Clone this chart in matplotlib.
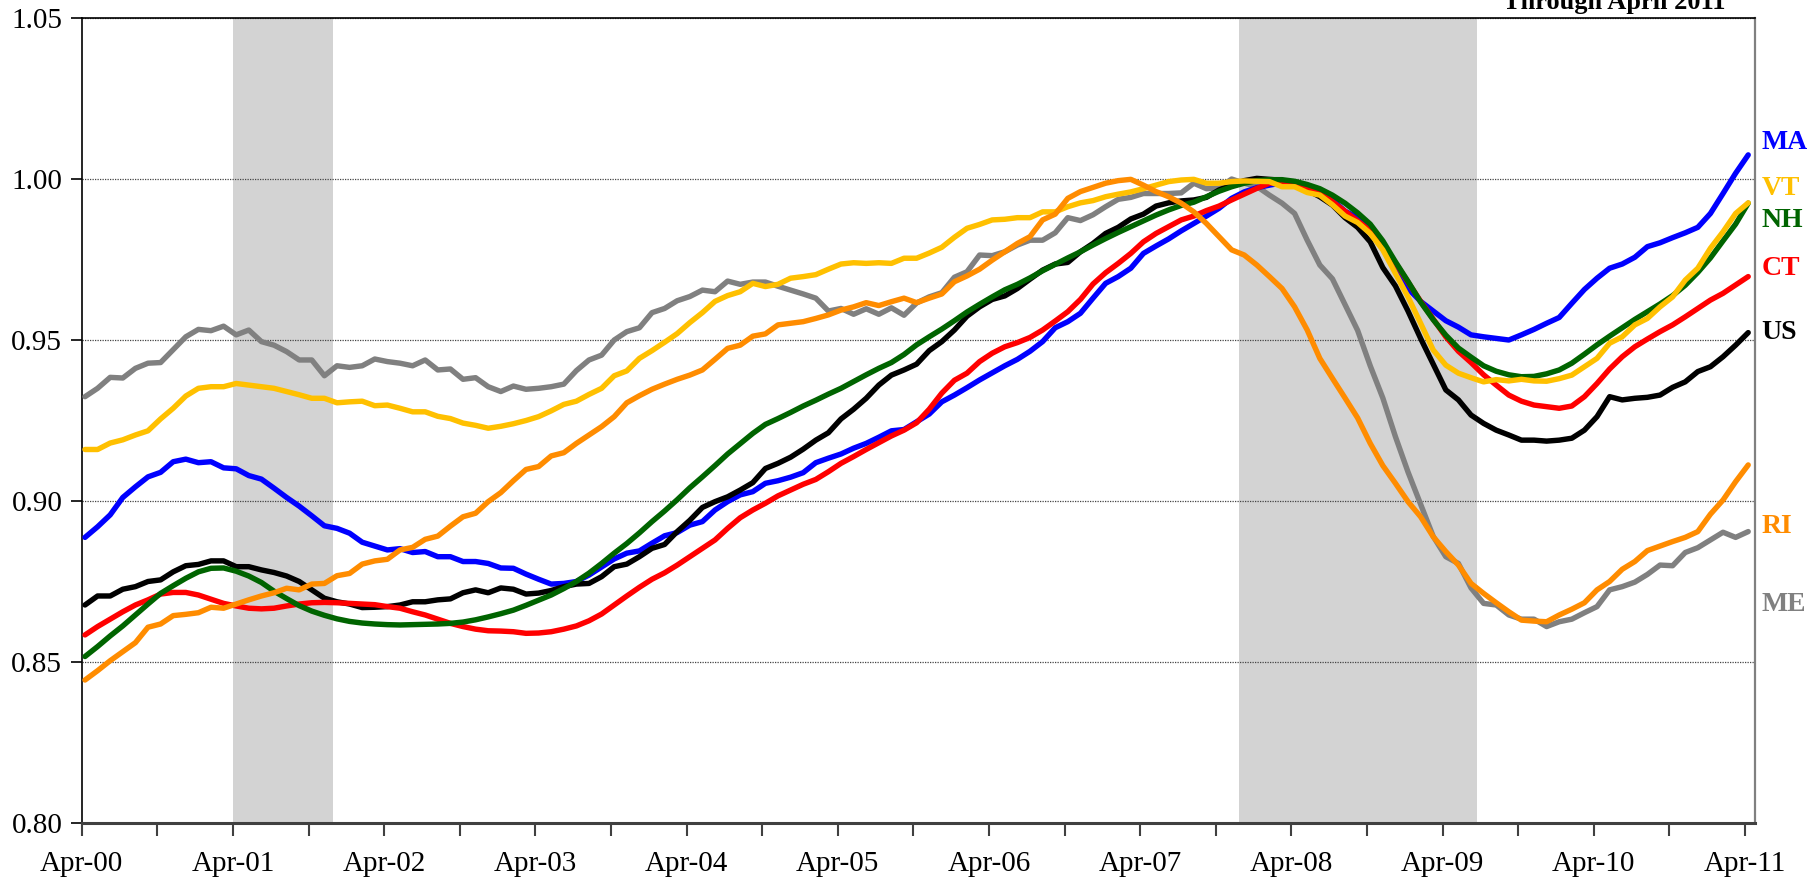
import numpy as np
import matplotlib
matplotlib.use("Agg")
import matplotlib.pyplot as plt

plt.rcParams['font.family'] = ['Liberation Serif', 'DejaVu Serif']

# monthly values, Apr-2000 .. Apr-2011 (133 months)
ME = [0.9324, 0.9350, 0.9384, 0.9382, 0.9412, 0.9428, 0.9430, 0.9470, 0.9510, 0.9533,
      0.9529, 0.9543, 0.9516, 0.9531, 0.9495, 0.9484, 0.9464, 0.9438, 0.9438, 0.9389,
      0.9420, 0.9415, 0.9420, 0.9441, 0.9433, 0.9428, 0.9420, 0.9438, 0.9407, 0.9410,
      0.9378, 0.9383, 0.9355, 0.9340, 0.9357, 0.9347, 0.9350, 0.9355, 0.9363, 0.9405,
      0.9438, 0.9453, 0.9500, 0.9526, 0.9538, 0.9585, 0.9598, 0.9622, 0.9635, 0.9655,
      0.9650, 0.9683, 0.9673, 0.9680, 0.9680, 0.9667, 0.9655, 0.9643, 0.9630, 0.9590,
      0.9598, 0.9580, 0.9597, 0.9580, 0.9600, 0.9577, 0.9615, 0.9634, 0.9647, 0.9695,
      0.9712, 0.9764, 0.9762, 0.9774, 0.9795, 0.9810, 0.9810, 0.9833, 0.9880, 0.9871,
      0.9889, 0.9914, 0.9937, 0.9943, 0.9955, 0.9955, 0.9955, 0.9957, 0.9987, 0.9970,
      0.9972, 1.0000, 0.9987, 0.9977, 0.9950, 0.9925, 0.9893, 0.9810, 0.9733, 0.9690,
      0.9610, 0.9530, 0.9420, 0.9320, 0.9200, 0.9090, 0.8990, 0.8890, 0.8827, 0.8806,
      0.8730, 0.8682, 0.8677, 0.8646, 0.8633, 0.8633, 0.8610, 0.8625, 0.8633, 0.8653,
      0.8672, 0.8724, 0.8734, 0.8748, 0.8772, 0.8801, 0.8799, 0.8840, 0.8855, 0.8879,
      0.8903, 0.8887, 0.8905]

VT = [0.9160, 0.9160, 0.9180, 0.9190, 0.9205, 0.9218, 0.9255, 0.9288, 0.9326, 0.9350,
      0.9355, 0.9355, 0.9365, 0.9360, 0.9355, 0.9350, 0.9340, 0.9330, 0.9319, 0.9319,
      0.9305, 0.9308, 0.9310, 0.9296, 0.9298, 0.9288, 0.9277, 0.9277, 0.9263, 0.9256,
      0.9242, 0.9235, 0.9226, 0.9232, 0.9240, 0.9250, 0.9262, 0.9280, 0.9300, 0.9310,
      0.9331, 0.9350, 0.9389, 0.9404, 0.9443, 0.9467, 0.9493, 0.9520, 0.9554, 0.9585,
      0.9620, 0.9638, 0.9650, 0.9676, 0.9666, 0.9673, 0.9692, 0.9697, 0.9703, 0.9720,
      0.9736, 0.9740, 0.9738, 0.9740, 0.9738, 0.9754, 0.9754, 0.9770, 0.9788, 0.9819,
      0.9847, 0.9859, 0.9873, 0.9875, 0.9880, 0.9880, 0.9898, 0.9898, 0.9914, 0.9926,
      0.9933, 0.9945, 0.9953, 0.9960, 0.9970, 0.9981, 0.9992, 0.9997, 0.9999, 0.9987,
      0.9987, 0.9992, 0.9994, 0.9993, 0.9992, 0.9976, 0.9976, 0.9958, 0.9950, 0.9920,
      0.9885, 0.9865, 0.9831, 0.9780, 0.9707, 0.9634, 0.9552, 0.9469, 0.9422, 0.9397,
      0.9383, 0.9370, 0.9377, 0.9373, 0.9378, 0.9373, 0.9372, 0.9380, 0.9391, 0.9417,
      0.9443, 0.9490, 0.9510, 0.9547, 0.9567, 0.9603, 0.9634, 0.9686, 0.9723, 0.9785,
      0.9836, 0.9893, 0.9926]

MA = [0.8887, 0.8920, 0.8957, 0.9011, 0.9044, 0.9075, 0.9089, 0.9122, 0.9130, 0.9119,
      0.9122, 0.9103, 0.9100, 0.9079, 0.9068, 0.9040, 0.9011, 0.8984, 0.8954, 0.8923,
      0.8915, 0.8900, 0.8872, 0.8860, 0.8848, 0.8852, 0.8840, 0.8843, 0.8827, 0.8827,
      0.8812, 0.8812, 0.8806, 0.8792, 0.8791, 0.8773, 0.8757, 0.8742, 0.8744, 0.8750,
      0.8770, 0.8795, 0.8820, 0.8838, 0.8845, 0.8869, 0.8892, 0.8902, 0.8925, 0.8936,
      0.8972, 0.8998, 0.9019, 0.9029, 0.9055, 0.9063, 0.9074, 0.9088, 0.9119, 0.9133,
      0.9146, 0.9164, 0.9179, 0.9198, 0.9218, 0.9222, 0.9246, 0.9270, 0.9308, 0.9329,
      0.9352, 0.9376, 0.9398, 0.9420, 0.9440, 0.9465, 0.9495, 0.9538, 0.9557, 0.9583,
      0.9630, 0.9676, 0.9697, 0.9723, 0.9769, 0.9792, 0.9814, 0.9839, 0.9862, 0.9885,
      0.9909, 0.9940, 0.9960, 0.9973, 0.9981, 0.9988, 0.9985, 0.9976, 0.9960, 0.9935,
      0.9900, 0.9880, 0.9840, 0.9785, 0.9715, 0.9660, 0.9620, 0.9590, 0.9560, 0.9540,
      0.9516, 0.9510, 0.9505, 0.9500, 0.9516, 0.9533, 0.9552, 0.9570, 0.9614, 0.9657,
      0.9692, 0.9723, 0.9736, 0.9757, 0.9790, 0.9802, 0.9818, 0.9833, 0.9850, 0.9893,
      0.9955, 1.0018, 1.0075]

US = [0.8677, 0.8705, 0.8705, 0.8726, 0.8734, 0.8750, 0.8755, 0.8780, 0.8799, 0.8803,
      0.8814, 0.8814, 0.8796, 0.8796, 0.8786, 0.8778, 0.8767, 0.8750, 0.8724, 0.8698,
      0.8687, 0.8680, 0.8669, 0.8670, 0.8672, 0.8677, 0.8687, 0.8687, 0.8693, 0.8696,
      0.8715, 0.8724, 0.8715, 0.8730, 0.8726, 0.8711, 0.8714, 0.8722, 0.8734, 0.8742,
      0.8744, 0.8765, 0.8796, 0.8804, 0.8827, 0.8853, 0.8865, 0.8905, 0.8940, 0.8980,
      0.8998, 0.9013, 0.9034, 0.9057, 0.9101, 0.9117, 0.9136, 0.9161, 0.9189, 0.9212,
      0.9255, 0.9285, 0.9319, 0.9360, 0.9391, 0.9407, 0.9425, 0.9467, 0.9495, 0.9531,
      0.9574, 0.9603, 0.9626, 0.9637, 0.9660, 0.9689, 0.9717, 0.9736, 0.9741, 0.9774,
      0.9800, 0.9831, 0.9850, 0.9876, 0.9891, 0.9916, 0.9926, 0.9932, 0.9935, 0.9943,
      0.9966, 0.9981, 0.9995, 1.0002, 0.9999, 0.9996, 0.9987, 0.9966, 0.9945, 0.9919,
      0.9880, 0.9850, 0.9805, 0.9725, 0.9668, 0.9590, 0.9505, 0.9425, 0.9345, 0.9314,
      0.9267, 0.9241, 0.9220, 0.9205, 0.9189, 0.9189, 0.9186, 0.9189, 0.9195, 0.9220,
      0.9262, 0.9324, 0.9314, 0.9319, 0.9322, 0.9329, 0.9353, 0.9370, 0.9402, 0.9417,
      0.9448, 0.9484, 0.9523]

NH = [0.8517, 0.8548, 0.8581, 0.8612, 0.8646, 0.8680, 0.8713, 0.8737, 0.8760, 0.8780,
      0.8791, 0.8792, 0.8782, 0.8767, 0.8747, 0.8720, 0.8697, 0.8675, 0.8658, 0.8645,
      0.8634, 0.8626, 0.8621, 0.8618, 0.8616, 0.8615, 0.8616, 0.8617, 0.8618, 0.8620,
      0.8624, 0.8631, 0.8640, 0.8650, 0.8661, 0.8676, 0.8692, 0.8708, 0.8728, 0.8750,
      0.8776, 0.8806, 0.8838, 0.8868, 0.8901, 0.8936, 0.8969, 0.9004, 0.9041, 0.9075,
      0.9110, 0.9146, 0.9178, 0.9210, 0.9238, 0.9256, 0.9275, 0.9295, 0.9313, 0.9332,
      0.9350, 0.9371, 0.9392, 0.9412, 0.9430, 0.9455, 0.9485, 0.9510, 0.9534, 0.9560,
      0.9587, 0.9611, 0.9634, 0.9656, 0.9673, 0.9693, 0.9715, 0.9735, 0.9755, 0.9774,
      0.9795, 0.9815, 0.9834, 0.9852, 0.9870, 0.9888, 0.9904, 0.9918, 0.9928, 0.9945,
      0.9962, 0.9976, 0.9987, 0.9995, 0.9998, 0.9998, 0.9993, 0.9983, 0.9970, 0.9950,
      0.9925, 0.9895, 0.9860, 0.9808, 0.9743, 0.9682, 0.9618, 0.9563, 0.9515, 0.9475,
      0.9447, 0.9420, 0.9403, 0.9392, 0.9386, 0.9387, 0.9395, 0.9407, 0.9428, 0.9456,
      0.9485, 0.9512, 0.9538, 0.9564, 0.9588, 0.9612, 0.9638, 0.9670, 0.9710, 0.9755,
      0.9808, 0.9860, 0.9925]

CT = [0.8584, 0.8610, 0.8633, 0.8656, 0.8677, 0.8693, 0.8711, 0.8716, 0.8716, 0.8708,
      0.8695, 0.8682, 0.8674, 0.8667, 0.8665, 0.8667, 0.8674, 0.8680, 0.8684, 0.8685,
      0.8684, 0.8682, 0.8680, 0.8678, 0.8672, 0.8667, 0.8656, 0.8646, 0.8633, 0.8620,
      0.8610, 0.8602, 0.8597, 0.8596, 0.8594, 0.8589, 0.8590, 0.8594, 0.8602, 0.8612,
      0.8628, 0.8649, 0.8677, 0.8705, 0.8732, 0.8757, 0.8777, 0.8801, 0.8827, 0.8853,
      0.8879, 0.8915, 0.8948, 0.8972, 0.8993, 0.9016, 0.9034, 0.9052, 0.9067, 0.9091,
      0.9117, 0.9138, 0.9160, 0.9181, 0.9202, 0.9220, 0.9243, 0.9285, 0.9335, 0.9375,
      0.9397, 0.9433, 0.9459, 0.9479, 0.9492, 0.9508, 0.9531, 0.9559, 0.9588, 0.9626,
      0.9674, 0.9709, 0.9738, 0.9769, 0.9805, 0.9831, 0.9852, 0.9873, 0.9885, 0.9902,
      0.9916, 0.9935, 0.9953, 0.9971, 0.9987, 0.9990, 0.9985, 0.9975, 0.9960, 0.9930,
      0.9900, 0.9870, 0.9840, 0.9795, 0.9740, 0.9680, 0.9620, 0.9565, 0.9510, 0.9465,
      0.9430, 0.9392, 0.9360, 0.9329, 0.9310, 0.9298, 0.9293, 0.9288, 0.9295, 0.9324,
      0.9365, 0.9410, 0.9448, 0.9479, 0.9503, 0.9526, 0.9547, 0.9572, 0.9598, 0.9624,
      0.9645, 0.9671, 0.9697]

RI = [0.8444, 0.8473, 0.8504, 0.8532, 0.8560, 0.8608, 0.8618, 0.8644, 0.8648, 0.8653,
      0.8670, 0.8667, 0.8680, 0.8693, 0.8705, 0.8715, 0.8729, 0.8724, 0.8742, 0.8744,
      0.8768, 0.8775, 0.8804, 0.8814, 0.8819, 0.8848, 0.8856, 0.8881, 0.8891, 0.8922,
      0.8951, 0.8962, 0.8998, 0.9026, 0.9063, 0.9098, 0.9107, 0.9140, 0.9150, 0.9179,
      0.9205, 0.9231, 0.9262, 0.9305, 0.9327, 0.9347, 0.9363, 0.9378, 0.9391, 0.9407,
      0.9440, 0.9474, 0.9484, 0.9512, 0.9519, 0.9547, 0.9552, 0.9557, 0.9567, 0.9578,
      0.9593, 0.9603, 0.9616, 0.9607, 0.9619, 0.9630, 0.9616, 0.9630, 0.9643, 0.9681,
      0.9699, 0.9720, 0.9748, 0.9774, 0.9800, 0.9821, 0.9873, 0.9891, 0.9940, 0.9961,
      0.9974, 0.9987, 0.9995, 0.9999, 0.9981, 0.9961, 0.9945, 0.9925, 0.9898, 0.9862,
      0.9821, 0.9780, 0.9764, 0.9733, 0.9697, 0.9660, 0.9603, 0.9531, 0.9443, 0.9381,
      0.9320, 0.9258, 0.9179, 0.9110, 0.9055, 0.8998, 0.8951, 0.8889, 0.8843, 0.8801,
      0.8744, 0.8713, 0.8684, 0.8656, 0.8630, 0.8627, 0.8625, 0.8646, 0.8664, 0.8684,
      0.8724, 0.8750, 0.8788, 0.8812, 0.8846, 0.8860, 0.8874, 0.8887, 0.8905, 0.8959,
      0.9003, 0.9060, 0.9112]

tick_labels = ['Apr-00', 'Apr-01', 'Apr-02', 'Apr-03', 'Apr-04', 'Apr-05',
               'Apr-06', 'Apr-07', 'Apr-08', 'Apr-09', 'Apr-10', 'Apr-11']
# recessions, in months after Apr-2000
recessions = [(11.74, 19.7), (91.6, 110.5)]

# name, values, colour, label height
series = [('ME', ME, '#808080', 0.8677),
          ('MA', MA, '#0000FF', 1.0115),
          ('US', US, '#000000', 0.9522),
          ('CT', CT, '#FF0000', 0.9723),
          ('NH', NH, '#006400', 0.9870),
          ('VT', VT, '#FFC000', 0.9970),
          ('RI', RI, '#FF8C00', 0.8922)]

fig = plt.figure(figsize=(18.2, 8.8), dpi=100)
ax = fig.add_axes([0.0449, 0.0648, 0.9194, 0.9147])

x = np.arange(len(US))
for a, b in recessions:
    ax.axvspan(a, b, color='#D3D3D3', lw=0, zorder=0)

for name, vals, col, ylab in series:
    ax.plot(x, vals, color=col, lw=3.9, zorder=3, solid_joinstyle='round',
            solid_capstyle='round')
    ax.text(1.004, ylab, name, color=col, fontsize=20, fontweight='bold',
            va='center', ha='left', transform=ax.get_yaxis_transform())

ax.set_xlim(-0.26, 132.54)
ax.set_ylim(0.80, 1.05)
ax.set_yticks([0.80, 0.85, 0.90, 0.95, 1.00, 1.05])
ax.set_yticklabels(['0.80', '0.85', '0.90', '0.95', '1.00', '1.05'])
ax.set_xticks(np.arange(23) * 6 - 0.26)
ax.set_xticklabels([tick_labels[i // 2] if i % 2 == 0 else '' for i in range(23)])
ax.tick_params(axis='x', direction='out', length=9, width=1.5, color='#404040',
               labelsize=21, pad=11)
ax.tick_params(axis='y', direction='out', length=8, width=1.2, labelsize=21, pad=6)

ax.yaxis.grid(True, linestyle=(0, (1, 1)), color='#444444', lw=0.9, zorder=1)
ax.set_axisbelow(True)
ax.spines['left'].set_linewidth(1.2)
ax.spines['top'].set_linewidth(1.2)
ax.spines['right'].set_color('#808080')
ax.spines['right'].set_linewidth(1.6)
ax.spines['bottom'].set_color('#404040')
ax.spines['bottom'].set_linewidth(2.2)

fig.text(0.887, 1 - 9 / 880, 'Through April 2011', fontsize=19, fontweight='bold',
         ha='center', va='baseline')

fig.savefig('out.png', dpi=100)
